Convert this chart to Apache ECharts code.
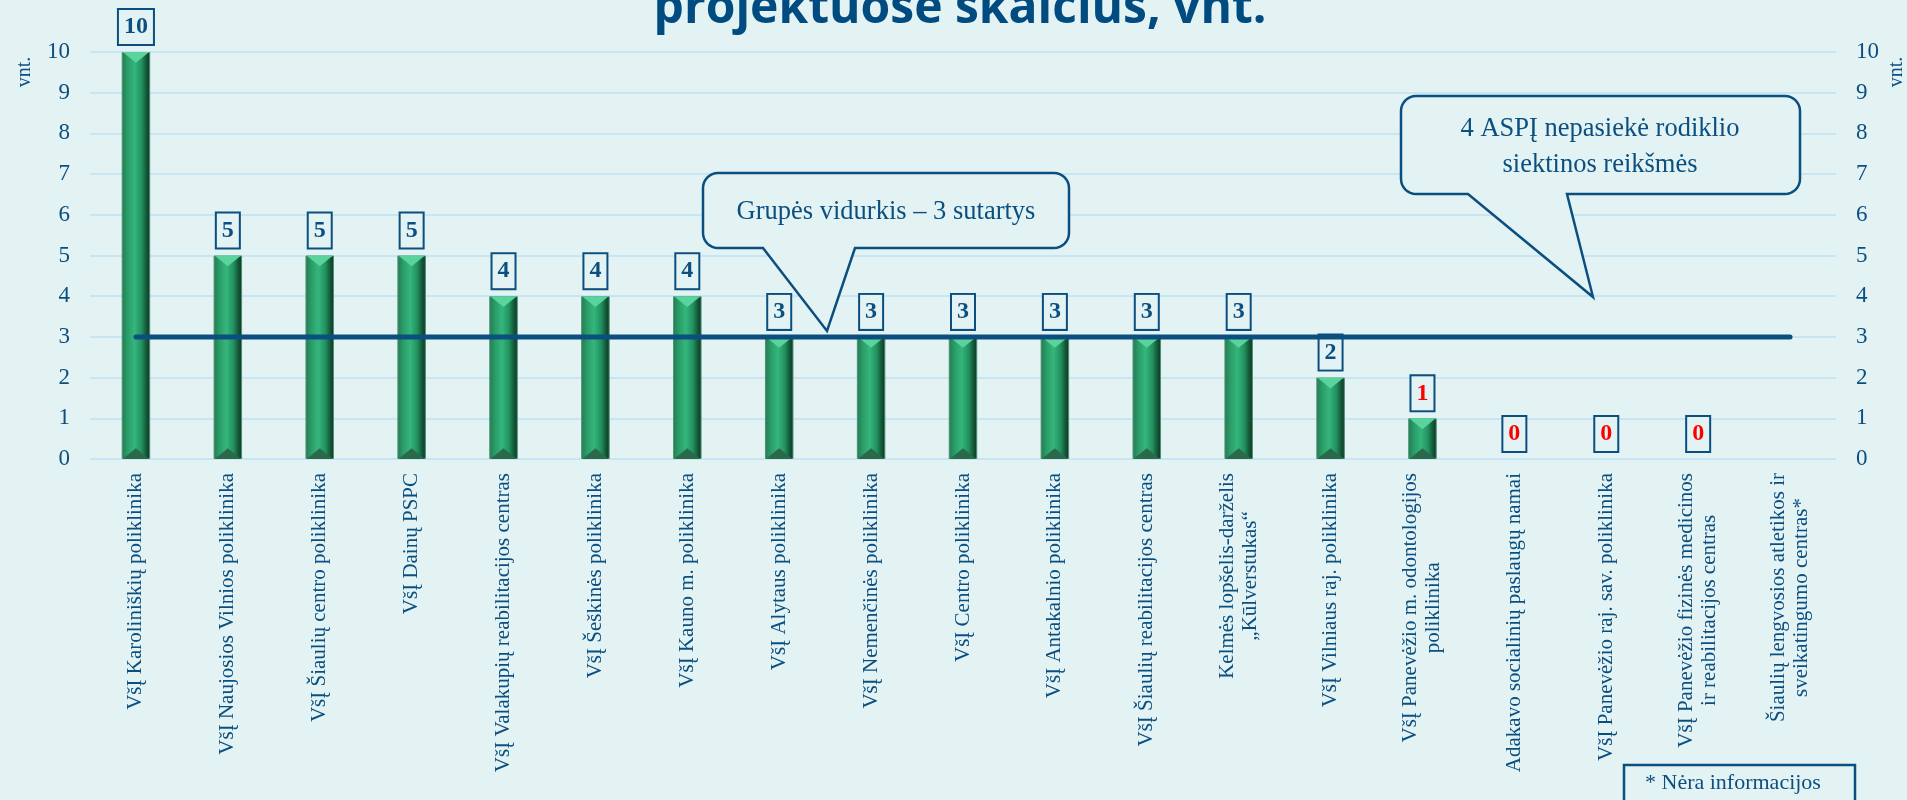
<!DOCTYPE html>
<html>
<head>
<meta charset="utf-8">
<script src="https://cdn.jsdelivr.net/npm/echarts@6/dist/echarts.min.js"></script>
<style>
  html, body { margin: 0; padding: 0; background: #e3f2f3; }
  #main { width: 1907px; height: 800px; }
</style>
</head>
<body>
<div id="main"></div>
<script>
var categories = [
  'VšĮ Karoliniškių poliklinika',
  'VšĮ Naujosios Vilnios poliklinika',
  'VšĮ Šiaulių centro poliklinika',
  'VšĮ Dainų PSPC',
  'VšĮ Valakupių reabilitacijos centras',
  'VšĮ Šeškinės poliklinika',
  'VšĮ Kauno m. poliklinika',
  'VšĮ Alytaus poliklinika',
  'VšĮ Nemenčinės poliklinika',
  'VšĮ Centro poliklinika',
  'VšĮ Antakalnio poliklinika',
  'VšĮ Šiaulių reabilitacijos centras',
  'Kelmės lopšelis-darželis\n„Kūlverstukas“',
  'VšĮ Vilniaus raj. poliklinika',
  'VšĮ Panevėžio m. odontologijos\npoliklinika',
  'Adakavo socialinių paslaugų namai',
  'VšĮ Panevėžio raj. sav. poliklinika',
  'VšĮ Panevėžio fizinės medicinos\nir reabilitacijos centras',
  'Šiaulių lengvosios atletikos ir\nsveikatingumo centras*'
];
// sutarčių skaičius (paskutinis – nėra informacijos)
var values = [10, 5, 5, 5, 4, 4, 4, 3, 3, 3, 3, 3, 3, 2, 1, 0, 0, 0, null];
// grupės vidurkis
var average = 3;
var yTicks = [0, 10, 1]; // min, max, interval

var blue = '#0b4f80';
var bg = '#e3f2f3';
var serif = '"Liberation Serif", "Times New Roman", serif';

var dom = document.getElementById('main');
var myChart = echarts.init(dom);

var barData = values.map(function (v) {
  return {
    value: v,
    itemStyle: { borderWidth: v ? 1 : 0 },
    label: { color: (v !== null && v <= 1) ? '#ff0000' : blue }
  };
});
var avgData = categories.map(function () { return average; });

// kampo lankas taškais
function arcPts (cx, cy, rad, a0, a1) {
  var pts = [];
  for (var k = 0; k <= 8; k++) {
    var a = a0 + (a1 - a0) * k / 8;
    pts.push([cx + rad * Math.cos(a), cy + rad * Math.sin(a)]);
  }
  return pts;
}
// "kalbos burbulas": suapvalintas stačiakampis su uodega apačioje
function bubblePoints (l, t, r, b, rad, t1, t2, tip) {
  var P = Math.PI;
  var pts = [];
  pts = pts.concat(arcPts(l + rad, t + rad, rad, P, 1.5 * P));
  pts = pts.concat(arcPts(r - rad, t + rad, rad, 1.5 * P, 2 * P));
  pts = pts.concat(arcPts(r - rad, b - rad, rad, 0, 0.5 * P));
  pts.push([t2, b], tip, [t1, b]);
  pts = pts.concat(arcPts(l + rad, b - rad, rad, 0.5 * P, P));
  return pts;
}

var yAxisBase = {
  type: 'value',
  min: yTicks[0],
  max: yTicks[1],
  interval: yTicks[2],
  axisLine: { show: false },
  axisTick: { show: false },
  axisLabel: { fontFamily: serif, fontSize: 23, color: blue, margin: 20 }
};

var option = {
  backgroundColor: bg,
  grid: { left: 90, right: 71, top: 52, bottom: 341, outerBoundsMode: 'none', containLabel: false },
  xAxis: {
    type: 'category',
    data: categories,
    axisLine: { show: false },
    axisTick: { show: false },
    axisLabel: {
      rotate: 90,
      interval: 0,
      margin: 14,
      fontFamily: serif,
      fontSize: 21,
      color: blue,
      formatter: function (val) {
        return val.split('\n').map(function (s) { return '{c|' + s + '}'; }).join('\n');
      },
      rich: {
        c: { fontFamily: serif, fontSize: 21, color: blue, align: 'center', lineHeight: 23 }
      }
    }
  },
  yAxis: [
    Object.assign({}, yAxisBase, {
      position: 'left',
      splitLine: { lineStyle: { color: '#c6e6f6', width: 2 } }
    }),
    Object.assign({}, yAxisBase, {
      position: 'right',
      splitLine: { show: false }
    })
  ],
  series: [
    {
      type: 'bar',
      data: barData,
      barWidth: '31%',
      z: 2,
      itemStyle: {
        borderColor: '#4f8f72',
        color: new echarts.graphic.LinearGradient(0, 0, 1, 0, [
          { offset: 0, color: '#237a52' },
          { offset: 0.2, color: '#2a9c67' },
          { offset: 0.45, color: '#34b67c' },
          { offset: 0.7, color: '#229060' },
          { offset: 0.85, color: '#155e3b' },
          { offset: 1, color: '#0c3322' }
        ])
      },
      label: {
        show: true,
        position: 'top',
        distance: 8,
        fontFamily: serif,
        fontWeight: 'bold',
        fontSize: 24,
        lineHeight: 24,
        backgroundColor: bg,
        borderColor: blue,
        borderWidth: 2,
        padding: [5, 5]
      }
    },
    {
      // stulpelių galų nuožulnos
      type: 'custom',
      z: 3,
      silent: true,
      data: values.map(function (v, i) { return [i, v]; }),
      encode: { x: 0, y: 1 },
      renderItem: function (params, api) {
        var v = api.value(1);
        if (v === null || isNaN(v) || v === 0) return;
        var top = api.coord([api.value(0), v]);
        var bot = api.coord([api.value(0), 0]);
        var w = api.size([1, 0])[0] * 0.31;
        var x = top[0];
        var d = w * 0.38;
        return {
          type: 'group',
          children: [
            {
              type: 'polygon',
              shape: { points: [[x - w / 2 + 1, top[1]], [x + w / 2 - 1, top[1]], [x, top[1] + d]] },
              style: { fill: '#5ad39c' }
            },
            {
              type: 'polygon',
              shape: { points: [[x - w / 2 + 1, bot[1]], [x + w / 2 - 1, bot[1]], [x, bot[1] - d]] },
              style: { fill: '#2a6a4b' }
            }
          ]
        };
      }
    },
    {
      type: 'line',
      data: avgData,
      symbol: 'none',
      z: 4,
      silent: true,
      lineStyle: { color: blue, width: 5, cap: 'round' }
    }
  ],
  graphic: [
    {
      type: 'text',
      style: {
        x: 960, y: 9,
        text: 'projektuose skaičius, vnt.',
        font: 'bold 48px "Open Sans", sans-serif',
        fill: '#004b7f',
        textAlign: 'center',
        textVerticalAlign: 'middle'
      }
    },
    {
      type: 'text',
      x: 25, y: 72, rotation: Math.PI / 2,
      style: { text: 'vnt.', font: '20px ' + serif, fill: blue, textAlign: 'center', textVerticalAlign: 'middle' }
    },
    {
      type: 'text',
      x: 1897, y: 72, rotation: Math.PI / 2,
      style: { text: 'vnt.', font: '20px ' + serif, fill: blue, textAlign: 'center', textVerticalAlign: 'middle' }
    },
    {
      type: 'polygon',
      z: 10,
      shape: { points: bubblePoints(703, 173, 1069, 248, 15, 763, 855, [827, 331]) },
      style: { fill: bg, stroke: blue, lineWidth: 2.5, lineJoin: 'miter' }
    },
    {
      type: 'text',
      z: 11,
      style: {
        x: 886, y: 212,
        text: 'Grupės vidurkis – 3 sutartys',
        font: '26.5px ' + serif, fill: blue,
        textAlign: 'center', textVerticalAlign: 'middle'
      }
    },
    {
      type: 'polygon',
      z: 10,
      shape: { points: bubblePoints(1401, 96, 1800, 194, 15, 1468, 1567, [1593, 297]) },
      style: { fill: bg, stroke: blue, lineWidth: 2.5, lineJoin: 'miter' }
    },
    {
      type: 'text',
      z: 11,
      style: {
        x: 1600, y: 147,
        text: '4 ASPĮ nepasiekė rodiklio\nsiektinos reikšmės',
        font: '26.5px ' + serif, fill: blue, lineHeight: 36,
        textAlign: 'center', textVerticalAlign: 'middle'
      }
    },
    {
      type: 'rect',
      z: 10,
      shape: { x: 1624, y: 765, width: 231, height: 60 },
      style: { fill: bg, stroke: blue, lineWidth: 2.5 }
    },
    {
      type: 'text',
      z: 11,
      style: {
        x: 1645, y: 783,
        text: '* Nėra informacijos',
        font: '22px ' + serif, fill: blue,
        textAlign: 'left', textVerticalAlign: 'middle'
      }
    }
  ]
};

myChart.setOption(option);
</script>
</body>
</html>
